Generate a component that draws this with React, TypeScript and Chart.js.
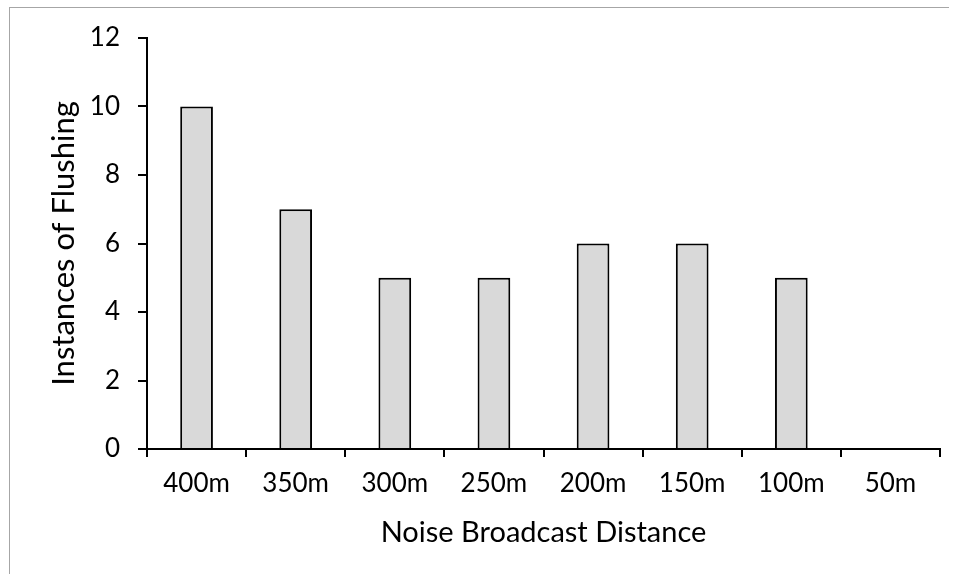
import React, { useEffect, useRef } from "react";
import { Chart, registerables } from "chart.js";

Chart.register(...registerables);

const categories = ["400m", "350m", "300m", "250m", "200m", "150m", "100m", "50m"];
const flushing = [10, 7, 5, 5, 6, 6, 5, 0];
const yMin = 0;
const yMax = 12;
const yStep = 2;

const FONT = "Lato, 'Liberation Sans', sans-serif";

export default function App() {
  const ref = useRef<HTMLCanvasElement>(null);
  useEffect(() => {
    const chart = new Chart(ref.current!, {
      type: "bar",
      data: {
        labels: categories,
        datasets: [
          {
            data: flushing,
            backgroundColor: "#d9d9d9",
            borderColor: "#000000",
            borderWidth: 2,
            barPercentage: 0.33,
            categoryPercentage: 1,
          },
        ],
      },
      options: {
        responsive: false,
        animation: false,
        layout: { padding: { top: 30, right: 9, left: 0, bottom: 0 } },
        plugins: { legend: { display: false }, tooltip: { enabled: false } },
        scales: {
          x: {
            grid: {
              offset: true,
              drawOnChartArea: false,
              color: "#000000",
              tickLength: 8,
              lineWidth: 2,
            },
            border: { color: "#000000", width: 2 },
            ticks: { color: "#000000", font: { family: FONT, size: 26 }, padding: 11, maxRotation: 0 },
            title: {
              display: true,
              text: "Noise Broadcast Distance",
              color: "#000000",
              font: { family: FONT, size: 29 },
              padding: { top: 0, bottom: 24 },
            },
            afterFit: (s: any) => {
              s.height = 125;
            },
          },
          y: {
            min: yMin,
            max: yMax,
            grid: {
              drawOnChartArea: false,
              color: "#000000",
              tickLength: 9,
              lineWidth: 2,
            },
            border: { color: "#000000", width: 2 },
            ticks: { stepSize: yStep, color: "#000000", font: { family: FONT, size: 26 }, padding: 18 },
            title: {
              display: true,
              text: "Instances of Flushing",
              color: "#000000",
              font: { family: FONT, size: 31 },
              padding: { top: 35, bottom: 0 },
            },
            afterFit: (s: any) => {
              s.width = 137;
              s.paddingTop = 0;
              s.paddingBottom = 0;
            },
          },
        },
      },
    });
    return () => chart.destroy();
  }, []);
  return (
    <div
      style={{
        position: "absolute",
        top: 7,
        left: 9,
        borderTop: "1px solid #a6a6a6",
        borderLeft: "1px solid #a6a6a6",
        width: 939,
        height: 566,
      }}
    >
      <canvas ref={ref} width={939} height={566} style={{ display: "block" }} />
    </div>
  );
}
